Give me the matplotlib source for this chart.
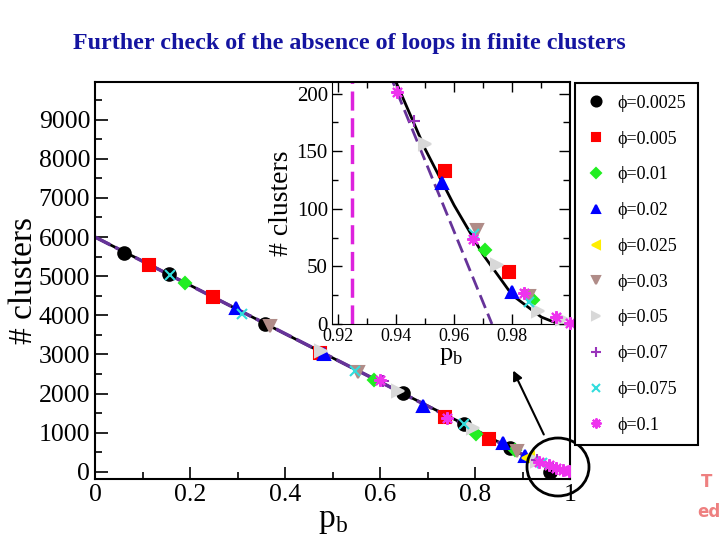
import matplotlib.pyplot as plt
from matplotlib.patches import Ellipse, FancyArrowPatch
from matplotlib.ticker import MultipleLocator

plt.rcParams['font.family'] = ['Liberation Serif', 'DejaVu Serif']
plt.rcParams['mathtext.fontset'] = 'custom'
plt.rcParams['mathtext.rm'] = 'Liberation Serif'

title = 'Further check of the absence of loops in finite clusters'
phi_labels = ['ϕ=0.0025', 'ϕ=0.005', 'ϕ=0.01', 'ϕ=0.02', 'ϕ=0.025',
              'ϕ=0.03', 'ϕ=0.05', 'ϕ=0.07', 'ϕ=0.075', 'ϕ=0.1']

# podaci - glavni grafik
main_x = [
    [0.061, 0.156, 0.358, 0.649, 0.777, 0.874, 0.958],
    [0.113, 0.249, 0.474, 0.737, 0.829],
    [0.19, 0.587, 0.802, 0.884],
    [0.296, 0.482, 0.691, 0.859, 0.905],
    [0.912],
    [0.368, 0.554, 0.888],
    [0.475, 0.638, 0.796, 0.93],
    [0.606, 0.93, 0.965],
    [0.158, 0.309, 0.548, 0.777, 0.94],
    [0.6, 0.741, 0.935, 0.955, 0.97, 0.985, 0.998],
]
main_y = [
    [5590, 5050, 3770, 2020, 1230, 610, 0],
    [5280, 4460, 3030, 1410, 850],
    [4820, 2340, 960, 560],
    [4200, 3020, 1680, 740, 420],
    [360],
    [3720, 2560, 540],
    [3080, 2060, 1120, 290],
    [2330, 300, 130],
    [5040, 4030, 2570, 1230, 230],
    [2340, 1390, 260, 170, 110, 60, 20],
]

# podaci - uvecani deo (inset)
inset_x = [
    [],
    [0.9567, 0.979],
    [0.9706, 0.987],
    [0.9558, 0.980],
    [],
    [0.968, 0.9856],
    [0.950, 0.9747, 0.989, 0.997],
    [0.9463],
    [0.967, 0.9856],
    [0.9405, 0.9666, 0.984, 0.995, 1.0],
]
inset_y = [
    [],
    [133, 45],
    [64, 21],
    [122, 28],
    [],
    [82, 24],
    [156, 51, 11, 4],
    [176],
    [78, 19],
    [201, 74, 27, 6, 1],
]

curve_x = [0, 0.2, 0.4, 0.6, 0.8, 0.9, 0.94, 0.95, 0.96, 0.97, 0.98, 0.99, 0.996]
curve_y = [6000, 4770, 3530, 2300, 1080, 440, 210, 152, 103, 60, 25, 6, 0]
bethe_x = [0, 0.973]
bethe_y = [6000, 0]
p_c = 0.925

markers = ['o', 's', 'D', '^', '<', 'v', '>', '+', 'x', (8, 2, 0)]
colors = ['black', '#ff0000', '#22ee22', '#0000ff', '#ffee00',
          '#b08c88', '#d8d8d8', '#9933bb', '#33dddd', '#ee33ee']
sizes = [9, 8, 6.5, 8, 8, 8, 8, 9, 7, 9]

fig = plt.figure(figsize=(7.2, 5.4), dpi=100)

# glavni grafik
ax = fig.add_axes([95/720, 1-479/540, 475/720, 397/540])
ax.plot(curve_x, curve_y, color='black', lw=2, zorder=2)
ax.plot(bethe_x, bethe_y, color='#663399', lw=2.5, dashes=(5, 1.5), zorder=2)
handles = []
for i in range(len(phi_labels)):
    h, = ax.plot(main_x[i], main_y[i], ls='none', marker=markers[i], color=colors[i],
                 ms=sizes[i], mew=1.5, label=phi_labels[i], zorder=3)
    handles.append(h)
ax.set_xlim(0, 1)
ax.set_ylim(-180, 9960)
ax.xaxis.set_major_locator(MultipleLocator(0.2))
ax.xaxis.set_minor_locator(MultipleLocator(0.1))
ax.yaxis.set_major_locator(MultipleLocator(1000))
ax.yaxis.set_minor_locator(MultipleLocator(500))
ax.xaxis.set_major_formatter(lambda v, p: '0' if v == 0 else ('1' if v == 1 else f'{v:g}'))
ax.tick_params(which='both', direction='in', labelsize=18.5, width=1.2)
ax.tick_params(which='major', length=9)
ax.tick_params(which='minor', length=5)
for s in ax.spines.values():
    s.set_linewidth(1.5)
ax.set_ylabel('# clusters', fontsize=24, labelpad=0)
ax.set_xlabel(r'p$_{\rm b}$', fontsize=24, labelpad=0)

# inset
ax2 = fig.add_axes([332/720, 1-324/540, 237/720, 242/540])
ax2.axvline(p_c, color='#dd22dd', lw=2.5, dashes=(5.5, 2.2))
ax2.plot(curve_x, curve_y, color='black', lw=2)
ax2.plot(bethe_x, bethe_y, color='#663399', lw=2, dashes=(5, 2.2))
for i in range(len(phi_labels)):
    ax2.plot(inset_x[i], inset_y[i], ls='none', marker=markers[i], color=colors[i],
             ms=sizes[i], mew=1.5, clip_on=False, zorder=3)
ax2.set_xlim(0.918, 0.9995)
ax2.set_ylim(0, 210)
ax2.xaxis.set_major_locator(MultipleLocator(0.02))
ax2.xaxis.set_minor_locator(MultipleLocator(0.01))
ax2.yaxis.set_major_locator(MultipleLocator(50))
ax2.yaxis.set_minor_locator(MultipleLocator(25))
ax2.tick_params(which='both', direction='in', top=True, right=True, width=1)
ax2.tick_params(which='major', length=7)
ax2.tick_params(which='minor', length=4)
ax2.tick_params(axis='x', labelsize=13, pad=3)
ax2.tick_params(axis='y', labelsize=15, pad=3)
ax2.set_ylabel('# clusters', fontsize=20, labelpad=2)
ax2.set_xlabel(r'p$_{\rm b}$', fontsize=19, labelpad=0)

# legenda
leg = fig.legend(handles=handles, loc='upper left', bbox_to_anchor=(575/720, 1-83/540),
                 borderaxespad=0, fontsize=13, numpoints=1, handlelength=1.0,
                 handletextpad=0.7, labelspacing=1.04, borderpad=0.65,
                 fancybox=False, framealpha=1, edgecolor='black', markerscale=0.8)
leg.get_frame().set_linewidth(1.5)

# krug i strelica
fig.add_artist(Ellipse((558/720, 1-467/540), 62/720, 58/540, fill=False, lw=2,
                       color='black', transform=fig.transFigure))
fig.add_artist(FancyArrowPatch((545/720, 1-437/540), (512/720, 1-368/540),
                               arrowstyle='-|>', mutation_scale=14, lw=1.5,
                               color='black', transform=fig.transFigure))

fig.text(349/720, 1-44/540, title, ha='center', va='center', fontsize=17.3,
         fontweight='bold', color='#1414a0')
fig.text(707/720, 1-482/540, 'T', ha='center', va='center', fontsize=12,
         fontweight='bold', color='#ee8080', family='DejaVu Sans')
fig.text(697/720, 1-512/540, 'ed', ha='left', va='center', fontsize=12,
         fontweight='bold', color='#ee8080', family='DejaVu Sans')

plt.savefig('out.png', dpi=100)
